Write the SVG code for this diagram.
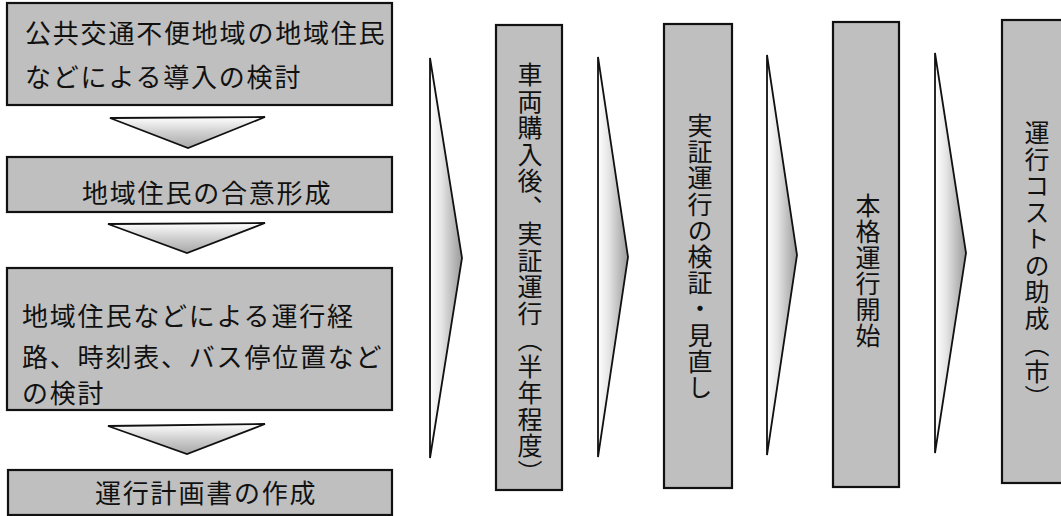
<svg xmlns="http://www.w3.org/2000/svg" width="1061" height="516" viewBox="0 0 1061 516">
<defs>
<linearGradient id="chev" x1="0" y1="0" x2="1" y2="0">
<stop offset="0" stop-color="#ffffff"/>
<stop offset="0.35" stop-color="#e6e6e6"/>
<stop offset="1" stop-color="#9a9a9a"/>
</linearGradient>
<linearGradient id="tri" x1="0" y1="0" x2="0" y2="1">
<stop offset="0" stop-color="#ffffff"/>
<stop offset="0.5" stop-color="#cfcfcf"/>
<stop offset="1" stop-color="#a8a8a8"/>
</linearGradient>
<style>
.box{fill:#bfbfbf;stroke:#111;stroke-width:2.2}
.chev{fill:url(#chev);stroke:#111;stroke-width:1.8;stroke-linejoin:miter}
.tri{fill:url(#tri);stroke:#111;stroke-width:1.8}
.t{font-family:"Noto Sans CJK JP","Noto Sans CJK SC",sans-serif;font-size:26px;fill:#111;letter-spacing:1.8px}
.v{font-family:"Noto Sans CJK JP","Noto Sans CJK SC",sans-serif;font-size:25px;fill:#111;writing-mode:vertical-rl;text-orientation:upright}
</style>
</defs>
<g id="connectors">
<polygon class="tri" points="110,118 265,117 188,148"/>
<polygon class="tri" points="108,224 265,223 187,253"/>
<polygon class="tri" points="108,426 265,424 187,454"/>
<polygon class="chev" points="430,58 462,258 430,458"/>
<polygon class="chev" points="598,57 628,257 598,457"/>
<polygon class="chev" points="767,55 797,255 767,455"/>
<polygon class="chev" points="935,53 966,253 935,453"/>
</g>
<g id="n1">
<rect class="box" x="7" y="3" width="385" height="102"/>
<text class="t" x="25" y="43">公共交通不便地域の地域住民</text>
<text class="t" x="25" y="87">などによる導入の検討</text>
</g>
<g id="n2">
<rect class="box" x="7" y="157" width="385" height="55"/>
<text class="t" x="82" y="203">地域住民の合意形成</text>
</g>
<g id="n3">
<rect class="box" x="7" y="268" width="385" height="142"/>
<text class="t" x="22" y="326">地域住民などによる運行経</text>
<text class="t" x="22" y="367">路、時刻表、バス停位置など</text>
<text class="t" x="22" y="403">の検討</text>
</g>
<g id="n4">
<rect class="box" x="8" y="470" width="384" height="45"/>
<text class="t" x="95" y="503">運行計画書の作成</text>
</g>
<g id="n5">
<rect class="box" x="496" y="25" width="66" height="465"/>
<text class="v" x="530" y="62" style="letter-spacing:1.5px">車両購入後、実証運行（半年程度）</text>
</g>
<g id="n6">
<rect class="box" x="664" y="24" width="68" height="464"/>
<text class="v" x="700" y="113" style="letter-spacing:1.2px">実証運行の検証・見直し</text>
</g>
<g id="n7">
<rect class="box" x="833" y="22" width="66" height="465"/>
<text class="v" x="868" y="193" style="letter-spacing:1px">本格運行開始</text>
</g>
<g id="n8">
<rect class="box" x="1002" y="20" width="70" height="463"/>
<text class="v" x="1037" y="120" style="letter-spacing:1.5px">運行コストの助成（市）</text>
</g>
</svg>
